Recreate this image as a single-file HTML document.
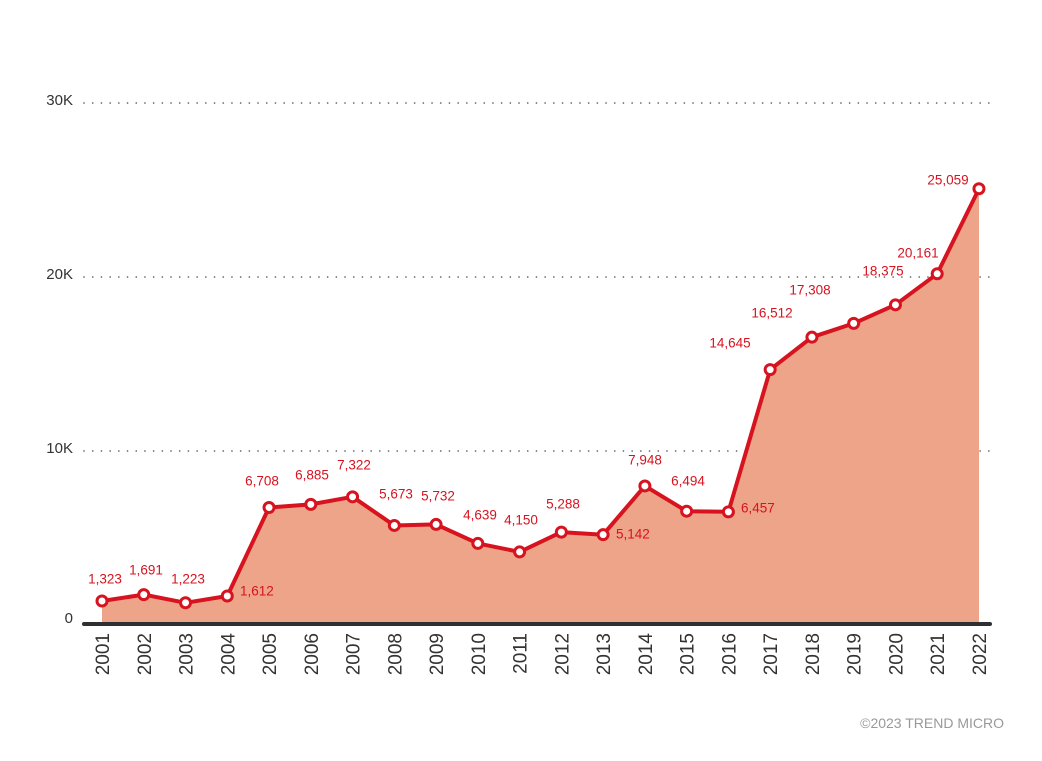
<!DOCTYPE html>
<html><head><style>body{margin:0;background:#fff}svg{display:block}</style></head>
<body>
<svg width="1042" height="761" xmlns="http://www.w3.org/2000/svg" font-family="Liberation Sans, sans-serif">
<g stroke="#555" stroke-width="1.6" stroke-dasharray="0.1 8.6" stroke-linecap="round">
<line x1="84" y1="103" x2="990" y2="103"/>
<line x1="84" y1="277" x2="990" y2="277"/>
<line x1="84" y1="451" x2="990" y2="451"/>
</g>
<g font-size="15" fill="#333" text-anchor="end">
<text x="73" y="105">30K</text>
<text x="73" y="279">20K</text>
<text x="73" y="453">10K</text>
<text x="73" y="623">0</text>
</g>
<path id="area" fill="#eda488" d=""/>
<path id="line" fill="none" stroke="#d7131f" stroke-width="4" stroke-linejoin="round" d=""/>
<line x1="84" y1="624" x2="990" y2="624" stroke="#2e3134" stroke-width="4" stroke-linecap="round"/>
<g id="pts"></g>
<g id="yrs" font-size="19" fill="#333"></g>
<g font-size="13.5" fill="#d7131f" text-anchor="middle" dominant-baseline="middle">
<text x="105" y="580">1,323</text>
<text x="146" y="571">1,691</text>
<text x="188" y="580">1,223</text>
<text x="240" y="592" text-anchor="start">1,612</text>
<text x="262" y="482">6,708</text>
<text x="312" y="476">6,885</text>
<text x="354" y="466">7,322</text>
<text x="396" y="495">5,673</text>
<text x="438" y="497">5,732</text>
<text x="480" y="516">4,639</text>
<text x="521" y="521">4,150</text>
<text x="563" y="505">5,288</text>
<text x="616" y="535" text-anchor="start">5,142</text>
<text x="645" y="461">7,948</text>
<text x="688" y="482">6,494</text>
<text x="741" y="509" text-anchor="start">6,457</text>
<text x="730" y="344">14,645</text>
<text x="772" y="314">16,512</text>
<text x="810" y="291">17,308</text>
<text x="883" y="272">18,375</text>
<text x="918" y="254">20,161</text>
<text x="948" y="181">25,059</text>
</g>
<text x="1004" y="728" font-size="14" fill="#999" text-anchor="end">©2023 TREND MICRO</text>
<script>
var v=[1323,1691,1223,1612,6708,6885,7322,5673,5732,4639,4150,5288,5142,7948,6494,6457,14645,16512,17308,18375,20161,25059];
var ns="http://www.w3.org/2000/svg",d="",pts=document.getElementById('pts'),yrs=document.getElementById('yrs');
v.forEach(function(a,i){var x=102+i*41.76,y=624-a*0.01737;d+=(i?"L":"M")+x.toFixed(1)+" "+y.toFixed(1);
var c=document.createElementNS(ns,'circle');c.setAttribute('cx',x);c.setAttribute('cy',y);c.setAttribute('r',5);c.setAttribute('fill','#fff');c.setAttribute('stroke','#d7131f');c.setAttribute('stroke-width',3);pts.appendChild(c);
var t=document.createElementNS(ns,'text');t.setAttribute('transform','translate('+(x+7)+',633) rotate(-90)');t.setAttribute('text-anchor','end');t.textContent=2001+i;yrs.appendChild(t);});
document.getElementById('line').setAttribute('d',d);
document.getElementById('area').setAttribute('d',d+"L979 624L102 624Z");
</script>
</svg>
</body></html>
